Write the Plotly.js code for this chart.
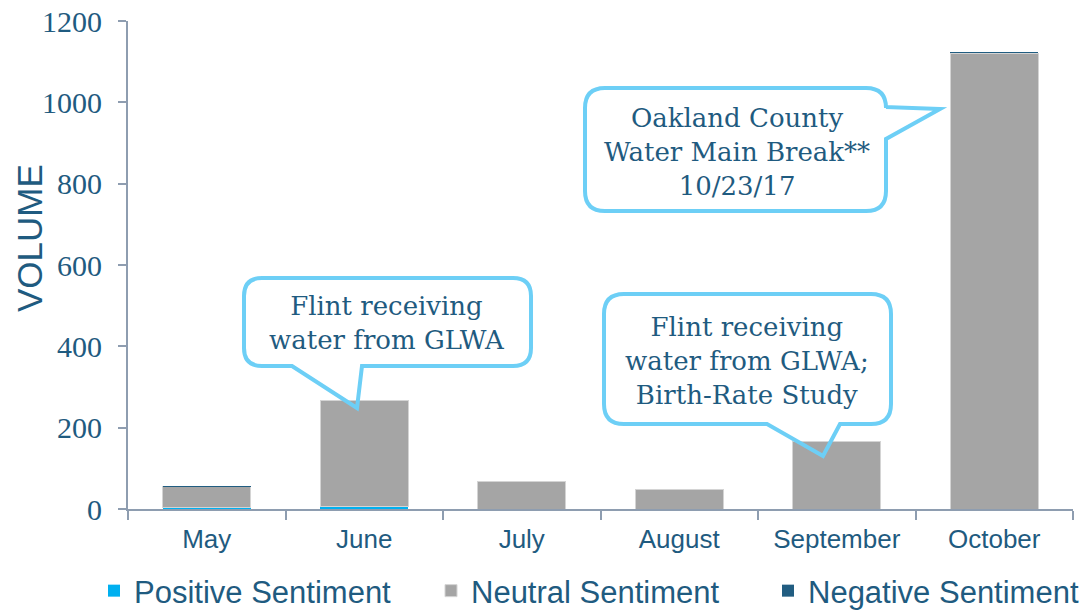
<!DOCTYPE html>
<html>
<head>
<meta charset="utf-8">
<script src="https://cdn.plot.ly/plotly-3.0.1.min.js"></script>
<style>html,body{margin:0;padding:0;background:#fff}#chart{width:1089px;height:610px}</style>
</head>
<body>
<div id="chart"></div>
<script>
// ---- data ----
const months = ['May', 'June', 'July', 'August', 'September', 'October'];
const positive = [3, 5, 0, 0, 0, 0];
const neutral = [52, 261, 67, 48, 167, 1121];
const negative = [2, 0, 0, 0, 0, 4];
const seriesNames = ['Positive Sentiment', 'Neutral Sentiment', 'Negative Sentiment'];
const yTicks = [0, 200, 400, 600, 800, 1000, 1200];
const callouts = [
  {text: 'Flint receiving<br>water from GLWA'},
  {text: 'Flint receiving<br>water from GLWA;<br>Birth-Rate Study'},
  {text: 'Oakland County<br>Water Main Break**<br>10/23/17'}
];

// ---- layout helpers (pixel -> paper) ----
const L = 128, R = 1073, T = 21, B = 509;
const W = 1089, H = 610;
function px(X) { return (X - L) / (R - L); }
function py(Y) { return (B - Y) / (B - T); }
function pt(X, Y) { return px(X).toFixed(5) + ',' + py(Y).toFixed(5); }

function calloutBottom(x0, y0, x1, y1, r, b1, tip, b2) {
  return 'M' + pt(x0 + r, y0) + ' L' + pt(x1 - r, y0) + ' Q' + pt(x1, y0) + ' ' + pt(x1, y0 + r) +
    ' L' + pt(x1, y1 - r) + ' Q' + pt(x1, y1) + ' ' + pt(x1 - r, y1) +
    ' L' + pt(b2, y1) + ' L' + pt(tip[0], tip[1]) + ' L' + pt(b1, y1) +
    ' L' + pt(x0 + r, y1) + ' Q' + pt(x0, y1) + ' ' + pt(x0, y1 - r) +
    ' L' + pt(x0, y0 + r) + ' Q' + pt(x0, y0) + ' ' + pt(x0 + r, y0) + ' Z';
}
function calloutRight(x0, y0, x1, y1, r, b1, tip, b2) {
  return 'M' + pt(x0 + r, y0) + ' L' + pt(x1 - r, y0) + ' Q' + pt(x1, y0) + ' ' + pt(x1, y0 + r) +
    ' L' + pt(x1, b1) + ' L' + pt(tip[0], tip[1]) + ' L' + pt(x1, b2) +
    ' L' + pt(x1, y1 - r) + ' Q' + pt(x1, y1) + ' ' + pt(x1 - r, y1) +
    ' L' + pt(x0 + r, y1) + ' Q' + pt(x0, y1) + ' ' + pt(x0, y1 - r) +
    ' L' + pt(x0, y0 + r) + ' Q' + pt(x0, y0) + ' ' + pt(x0 + r, y0) + ' Z';
}

const textColor = '#1f5b80';
const boxLine = {color: '#6dcff6', width: 4};

const traces = [
  {type: 'bar', name: seriesNames[0], x: months, y: positive,
   marker: {color: '#00b0f0', line: {width: 0}}},
  {type: 'bar', name: seriesNames[1], x: months, y: neutral,
   marker: {color: '#a5a5a5', line: {color: '#d4d4d4', width: 1}}},
  {type: 'bar', name: seriesNames[2], x: months, y: negative,
   marker: {color: '#215d81', line: {width: 0}}}
];

const shapes = [
  {type: 'path', xref: 'paper', yref: 'paper', line: boxLine, fillcolor: 'rgba(0,0,0,0)',
   path: calloutBottom(244, 278, 531, 366, 18, 292, [357, 408], 362)},
  {type: 'path', xref: 'paper', yref: 'paper', line: boxLine, fillcolor: 'rgba(0,0,0,0)',
   path: calloutBottom(604, 294, 891, 424, 20, 767, [823, 456], 840)},
  {type: 'path', xref: 'paper', yref: 'paper', line: boxLine, fillcolor: 'rgba(0,0,0,0)',
   path: calloutRight(585, 88, 886, 211, 20, 107, [940, 109], 139)}
];

const calloutFont = {family: 'DejaVu Serif', size: 26, color: textColor};
const annotations = [
  {xref: 'paper', yref: 'paper', x: px(387), y: py(323), text: callouts[0].text, showarrow: false,
   font: calloutFont, align: 'center', xanchor: 'center', yanchor: 'middle'},
  {xref: 'paper', yref: 'paper', x: px(747), y: py(361), text: callouts[1].text, showarrow: false,
   font: calloutFont, align: 'center', xanchor: 'center', yanchor: 'middle'},
  {xref: 'paper', yref: 'paper', x: px(737), y: py(152), text: callouts[2].text, showarrow: false,
   font: calloutFont, align: 'center', xanchor: 'center', yanchor: 'middle'},
  {xref: 'paper', yref: 'paper', x: px(29), y: py(238), text: 'VOLUME', showarrow: false, textangle: -90,
   font: {family: 'Liberation Sans', size: 35, color: textColor}, xanchor: 'center', yanchor: 'middle'}
];

const layout = {
  width: W, height: H,
  margin: {l: L, r: W - R, t: T, b: H - B, autoexpand: false},
  paper_bgcolor: '#ffffff', plot_bgcolor: '#ffffff',
  barmode: 'stack', bargap: 0.44,
  showlegend: true,
  legend: {orientation: 'h', x: px(94), xanchor: 'left', y: py(591), yanchor: 'middle',
           font: {family: 'Liberation Sans', size: 31, color: textColor},
           entrywidth: 292, entrywidthmode: 'pixels', traceorder: 'normal',
           bgcolor: 'rgba(0,0,0,0)'},
  xaxis: {type: 'category', showgrid: false, zeroline: false, showline: true,
          linecolor: '#8e9db0', linewidth: 2, ticks: 'outside', tickson: 'boundaries',
          ticklen: 9, tickwidth: 2, tickcolor: '#8e9db0', ticklabelstandoff: 6,
          tickfont: {family: 'Liberation Sans', size: 26, color: textColor}, fixedrange: true},
  yaxis: {range: [0, 1200], tickvals: yTicks, showgrid: false, zeroline: false, showline: true,
          linecolor: '#8e9db0', linewidth: 2, ticks: 'outside', ticklen: 8, tickwidth: 2,
          tickcolor: '#8e9db0', ticklabelstandoff: 10,
          tickfont: {family: 'Liberation Serif', size: 30, color: textColor}, fixedrange: true},
  shapes: shapes,
  annotations: annotations
};

Plotly.newPlot('chart', traces, layout, {displayModeBar: false, staticPlot: true});
</script>
</body>
</html>
